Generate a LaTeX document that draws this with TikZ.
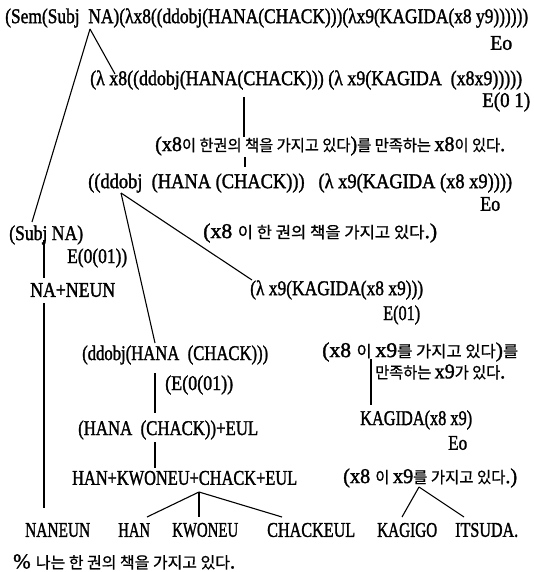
\documentclass[tikz,border=0pt]{standalone}
\usepackage{fontspec}
\usepackage{graphicx}
\setmainfont{Liberation Serif}[FakeBold=1.6]
\newfontfamily\hgfont{Noto Sans CJK KR}[FakeBold=0.8]
\newcommand\hg[1]{{\hgfont\fontsize{16}{19}\selectfont #1}}
\newcommand\sq[2]{\resizebox{#1pt}{\height}{#2}}
\begin{document}
\begin{tikzpicture}[x=1pt,y=-1pt,
    lbl/.style={anchor=west,inner sep=0pt,font=\fontsize{21}{25}\selectfont},
    link/.style={line width=1.1pt}]
      \useasboundingbox (0,0) rectangle (534,572);
      \path
        (5,18)    node[lbl] (sem)   {\sq{523}{(Sem(Subj\ \ NA)(λx8((ddobj(HANA(CHACK)))(λx9(KAGIDA(x8 y9))))))}}
        (490,43)  node[lbl] (eo1)   {\sq{22}{Eo}}
        (90,80)   node[lbl] (lx8)   {\sq{432}{(λ x8((ddobj(HANA(CHACK))) (λ x9(KAGIDA\ \ (x8x9)))))}}
        (482,102) node[lbl] (e01a)  {\sq{48}{E(0 1)}}
        (155,146) node[lbl] (kr1)   {\sq{350}{(x8\hg{이 한권의 책을 가지고 있다})\hg{를 만족하는 }x8\hg{이 있다}.}}
        (88,183)  node[lbl] (dd1)   {\sq{424}{((ddobj\ \ (HANA (CHACK)))\ \ \ (λ x9(KAGIDA (x8 x9))))}}
        (480,204) node[lbl] (eo2)   {\sq{20}{Eo}}
        (9,235)   node[lbl] (subj)  {\sq{74}{(Subj NA)}}
        (203,233) node[lbl] (kr2)   {\sq{234}{(x8 \hg{이 한 권의 책을 가지고 있다}.)}}
        (67,258)  node[lbl] (e001)  {\sq{60}{E(0(01))}}
        (30,290)  node[lbl] (nan)   {\sq{85}{NA+NEUN}}
        (250,290) node[lbl] (lx9)   {\sq{173}{(λ x9(KAGIDA(x8 x9)))}}
        (383,315) node[lbl] (e01b)  {\sq{37}{E(01)}}
        (322,352) node[lbl] (kr3)   {\sq{196}{(x8 \hg{이 }x9\hg{를 가지고 있다})\hg{를}}}
        (82,355)  node[lbl] (ddh)   {\sq{186}{(ddobj(HANA\ \ (CHACK)))}}
        (375,372) node[lbl] (kr4)   {\sq{130}{\hg{만족하는 }x9\hg{가 있다}.}}
        (165,385) node[lbl] (e001b) {\sq{68}{(E(0(01))}}
        (360,420) node[lbl] (kag)   {\sq{112}{KAGIDA(x8 x9)}}
        (78,430)  node[lbl] (hana)  {\sq{180}{(HANA\ \ (CHACK))+EUL}}
        (448,443) node[lbl] (eo3)   {\sq{19}{Eo}}
        (72,478)  node[lbl] (hkce)  {\sq{225}{HAN+KWONEU+CHACK+EUL}}
        (343,478) node[lbl] (kr5)   {\sq{174}{(x8 \hg{이 }x9\hg{를 가지고 있다}.)}}
        (25,530)  node[lbl] (naneun){\sq{65}{NANEUN}}
        (118,530) node[lbl] (han)   {\sq{32}{HAN}}
        (172,530) node[lbl] (kwoneu){\sq{66}{KWONEU}}
        (267,530) node[lbl] (chackeul){\sq{88}{CHACKEUL}}
        (377,530) node[lbl] (kagigo){\sq{60}{KAGIGO}}
        (455,530) node[lbl] (itsuda){\sq{63}{ITSUDA.}}
        (13,562)  node[lbl] (note)  {\sq{222}{\% \hg{나는 한 권의 책을 가지고 있다}.}};
      % attachment points inside the long lines
      \coordinate (na)     at (90,29);
      \coordinate (x8top)  at (115,74);
      \coordinate (subjtop) at (32,222);
      \coordinate (chk1)   at (244,97);
      \coordinate (kr1top) at (244,137);
      \coordinate (kr1bot) at (245,157);
      \coordinate (chk2)   at (245,167);
      \coordinate (ddob)   at (121,193);
      \coordinate (ddhtop) at (155,343);
      \coordinate (lx9top) at (252,280);
      \coordinate (subjbot) at (44,240);
      \coordinate (nantop) at (44,278);
      \coordinate (nanbot) at (44,303);
      \coordinate (nanend) at (44,508);
      \coordinate (ddhbot) at (155,373);
      \coordinate (hanatop) at (155,413);
      \coordinate (hanabot) at (155,442);
      \coordinate (hkcetop) at (155,468);
      \coordinate (plus)   at (199,492);
      \coordinate (hantop) at (147,517);
      \coordinate (kwotop) at (199,517);
      \coordinate (chktop) at (282,517);
      \coordinate (kr3bot) at (371,359);
      \coordinate (kagtop) at (371,405);
      \coordinate (reul)   at (419,487);
      \coordinate (kgtop)  at (402,517);
      \coordinate (ittop)  at (464,517);
      \begin{scope}[link]
        \draw (na) to (subjtop);
        \draw (na) to (x8top);
        \draw (chk1) to (kr1top);
        \draw (kr1bot) to (chk2);
        \draw (ddob) to (ddhtop);
        \draw (ddob) to (lx9top);
        \draw (subjbot) to (nantop);
        \draw (nanbot) to (nanend);
        \draw (ddhbot) to (hanatop);
        \draw (hanabot) to (hkcetop);
        \draw (plus) to (hantop);
        \draw (plus) to (kwotop);
        \draw (plus) to (chktop);
        \draw (kr3bot) to (kagtop);
        \draw (reul) to (kgtop);
        \draw (reul) to (ittop);
      \end{scope}
    \end{tikzpicture}
\end{document}
